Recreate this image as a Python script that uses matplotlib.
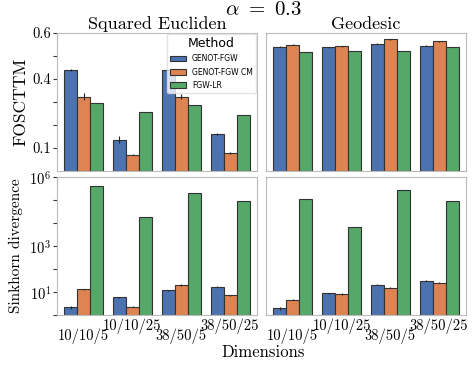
import numpy as np
import matplotlib
matplotlib.use("Agg")
import matplotlib.pyplot as plt
import matplotlib.transforms as mtransforms

plt.rcParams['font.family'] = 'serif'
plt.rcParams['font.serif'] = ['cmr10', 'DejaVu Serif']
plt.rcParams['mathtext.fontset'] = 'cm'
plt.rcParams['axes.formatter.use_mathtext'] = True

dims = ["10/10/5", "10/10/25", "38/50/5", "38/50/25"]
methods = ["GENOT-FGW", "GENOT-FGW CM", "FGW-LR"]
colors = ["#4C72B0", "#DD8452", "#55A868"]

# FOSCTTM, squared euclidean
fos_eucl = [[0.44, 0.135, 0.44, 0.161],
            [0.323, 0.07, 0.323, 0.077],
            [0.297, 0.258, 0.286, 0.243]]
fos_eucl_err = [[0.005, 0.015, 0.005, 0.005],
                [0.015, 0.003, 0.01, 0.005],
                [0.0, 0.0, 0.0, 0.0]]
# FOSCTTM, geodesic
fos_geo = [[0.540, 0.538, 0.553, 0.545],
           [0.548, 0.541, 0.572, 0.564],
           [0.516, 0.523, 0.523, 0.538]]
fos_geo_err = [[0.002, 0.002, 0.002, 0.002],
               [0.002, 0.002, 0.002, 0.002],
               [0.0, 0.0, 0.0, 0.0]]
# Sinkhorn divergence
sink_eucl = [[2.2, 5.9, 12, 17],
             [13, 2.3, 19.6, 7.2],
             [4e5, 1.8e4, 2e5, 9e4]]
sink_geo = [[2.0, 8.8, 21, 30],
            [4.6, 8.0, 15.4, 24.6],
            [1.07e5, 6.9e3, 2.6e5, 9.3e4]]
sink_err_rel = [[0.15, 0.05, 0.05, 0.05],
                [0.05, 0.08, 0.08, 0.05],
                [0.0, 0.0, 0.0, 0.0]]

fig, axes = plt.subplots(2, 2, figsize=(4.74, 3.74), dpi=100, sharey='row')
fig.subplots_adjust(left=0.12, right=0.983, top=0.912, bottom=0.158,
                    wspace=0.045, hspace=0.045)

x = np.arange(len(dims))
w = 0.8 / 3

def draw(ax, vals, errs, log=False):
    for i in range(3):
        v = np.array(vals[i])
        e = np.array(errs[i])
        if log:
            e = v * e
        ax.bar(x + (i - 1) * w, v, w, color=colors[i], edgecolor="#333333",
               linewidth=0.8, label=methods[i])
        if e.max() > 0:
            ax.errorbar(x + (i - 1) * w, v, yerr=e, fmt="none", ecolor="#222222",
                        elinewidth=0.8, capsize=0)
    for s in ax.spines.values():
        s.set_color("#bbbbbb")
    ax.set_xlim(-0.55, 3.55)
    ax.tick_params(axis='y', length=3, color="#333333", labelsize=10.5, pad=1)
    ax.tick_params(axis='x', length=0)

draw(axes[0, 0], fos_eucl, fos_eucl_err)
draw(axes[0, 1], fos_geo, fos_geo_err)
draw(axes[1, 0], sink_eucl, sink_err_rel, log=True)
draw(axes[1, 1], sink_geo, sink_err_rel, log=True)

ax = axes[0, 0]
ax.set_ylim(0, 0.6)
ax.set_yticks([0.1, 0.2, 0.3, 0.4, 0.5, 0.6])
ax.set_yticklabels(["0.1", "", "", "0.4", "", "0.6"])
ax.set_ylabel("FOSCTTM", fontsize=12.5, labelpad=3)
ax.set_title("Squared Eucliden", fontsize=13, pad=3)
axes[0, 1].set_title("Geodesic", fontsize=13, pad=3)
for a in axes[0]:
    a.set_xticks([])
axes[0, 1].tick_params(axis='y', length=0)

ax = axes[1, 0]
ax.set_yscale('log')
ax.set_ylim(1, 1e6)
ax.set_yticks([10.0 ** k for k in range(0, 7)])
ax.set_yticklabels(["", "$10^1$", "", "$10^3$", "", "", "$10^6$"])
ax.minorticks_off()
ax.set_ylabel("Sinkhorn divergence", fontsize=11, labelpad=5)
axes[1, 1].tick_params(axis='y', which='both', length=0)

# staggered category labels
for a in axes[1]:
    a.set_xticks(x)
    a.set_xticklabels([])
    base = mtransforms.blended_transform_factory(a.transData, a.transAxes)
    for k, d in enumerate(dims):
        dy = -14 if k % 2 == 0 else -4
        tr = base + mtransforms.ScaledTranslation(0, dy / 100, fig.dpi_scale_trans)
        a.text(k, 0, d, transform=tr, ha="center", va="top", fontsize=10.5)

leg = axes[0, 0].legend(title="Method", loc="upper right", frameon=True,
                        borderpad=0.45, borderaxespad=0.1,
                        handlelength=2.0, labelspacing=0.55,
                        prop={'family': 'DejaVu Sans', 'size': 5.5})
leg.get_title().set_family('DejaVu Sans')
leg.get_title().set_fontsize(9)
leg.get_frame().set_edgecolor("#dddddd")

fig.suptitle(r"$\alpha\ =\ 0.3$", fontsize=15, x=0.556, y=0.997)
fig.text(0.556, 0.045, "Dimensions", ha="center", fontsize=12)

fig.savefig("out.png", dpi=100)
